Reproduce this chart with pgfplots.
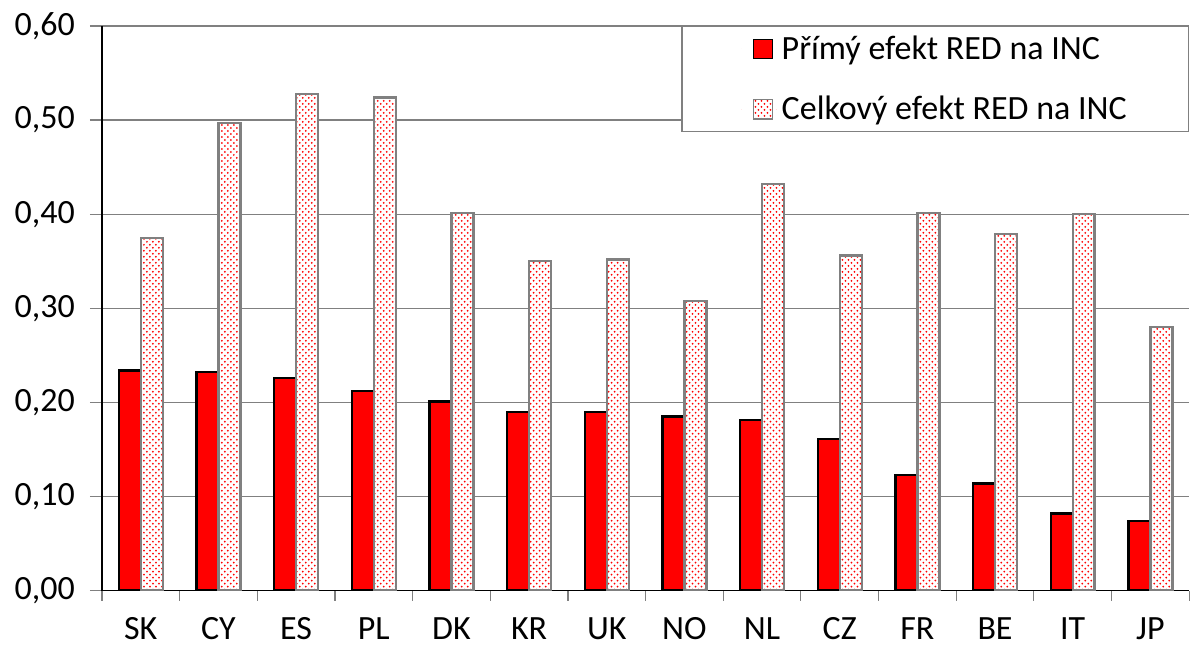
\documentclass[border=0pt]{standalone}
\usepackage{pgfplots}
\pgfplotsset{compat=1.18}
\usepackage{fontspec}
\setmainfont{Carlito}
\usetikzlibrary{patterns}
\definecolor{gridgray}{RGB}{128,128,128}
\definecolor{barred}{RGB}{255,0,0}
\pgfplotstableread{
x direct total
0 0.234 0.375
1 0.232 0.497
2 0.226 0.528
3 0.212 0.524
4 0.201 0.401
5 0.190 0.350
6 0.190 0.352
7 0.185 0.308
8 0.181 0.432
9 0.161 0.356
10 0.123 0.401
11 0.114 0.379
12 0.082 0.400
13 0.074 0.280
}\datatable
\begin{document}
\begin{tikzpicture}
\begin{axis}[
  scale only axis,
  width=544pt, height=282.5pt,
  xmin=-0.5, xmax=13.5,
  ymin=0, ymax=0.6,
  ytick={0,0.1,...,0.6},
  xtick={0,...,13},
  xticklabels={SK,CY,ES,PL,DK,KR,UK,NO,NL,CZ,FR,BE,IT,JP},
  minor xtick={-0.5,0.5,...,13.5},
  axis x line*=bottom,
  axis y line*=left,
  axis line style={black, line width=0.8pt},
  tick align=outside,
  major x tick style={draw=none},
  minor x tick style={gridgray, line width=0.6pt},
  minor tick length=5pt,
  major y tick style={gridgray, line width=0.6pt},
  major tick length=6pt,
  ymajorgrids,
  grid style={gridgray, line width=0.6pt},
  tick label style={font=\fontsize{17}{20}\selectfont},
  /pgf/number format/.cd, fixed, fixed zerofill, precision=2, use comma, assume math mode=true,
  /pgfplots/.cd,
  yticklabel style={xshift=-4pt},
  xticklabel style={yshift=-4pt},
  ybar, bar width=11pt,
  legend style={at={(rel axis cs:1,1)}, anchor=north east, draw=gridgray, fill=white,
    line width=0.6pt, inner xsep=29pt, inner ysep=2.5pt, row sep=13pt,
    font=\fontsize{17}{20}\selectfont},
  legend cell align=left,
  legend image code/.code={\path (-6pt,0) circle (0pt);\path (0.34cm+2pt,0) circle (0pt);\draw[#1, line width=0.7pt] (0cm,-0.17cm) rectangle (0.34cm,0.17cm);},
]
\addplot[bar shift=-5.5pt, fill=barred, draw=black, line width=1.2pt] table[x=x,y=direct]{\datatable};
\addlegendentry{Přímý efekt RED na INC}
\addplot[bar shift=5.5pt, fill=white, draw=gridgray, line width=1.2pt, postaction={pattern=crosshatch dots, pattern color=barred}] table[x=x,y=total]{\datatable};
\addlegendentry{Celkový efekt RED na INC}
\end{axis}
\path ([xshift=-51pt,yshift=-25.5pt]current axis.south west) circle (0pt);
\path ([xshift=-51pt,yshift=13pt]current axis.north west) circle (0pt);
\end{tikzpicture}
\end{document}
